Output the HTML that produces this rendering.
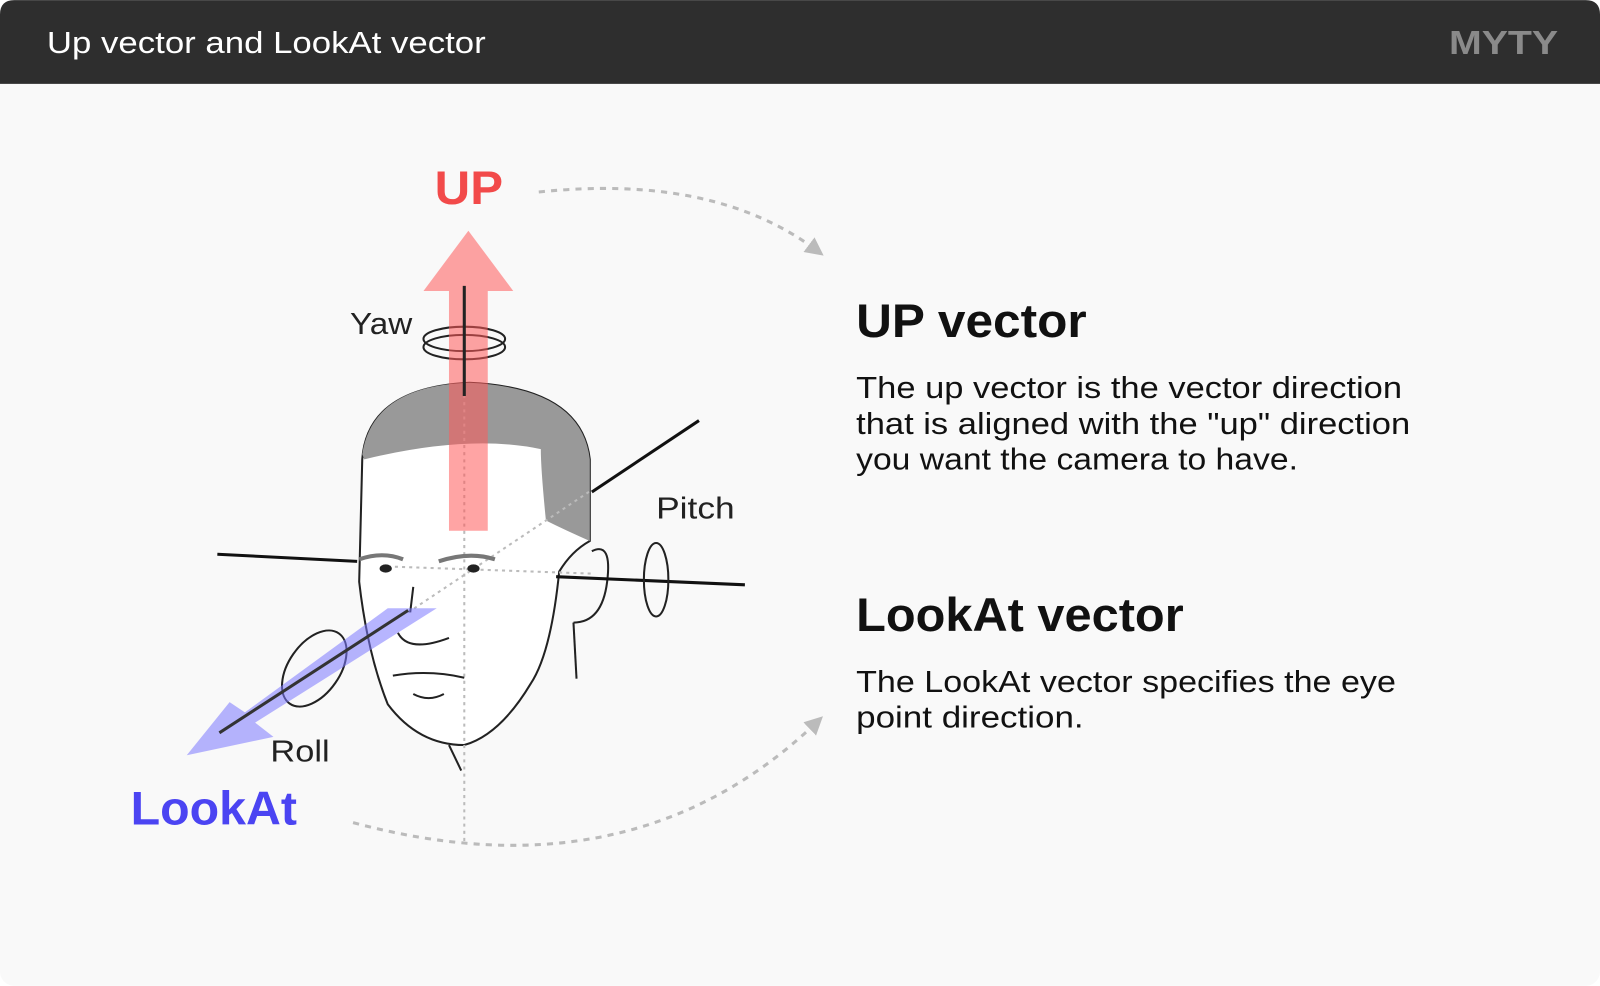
<!DOCTYPE html>
<html><head><meta charset="utf-8"><style>
html,body{margin:0;padding:0;background:#fff;}
svg{display:block}
text{font-family:"Liberation Sans",sans-serif}
</style></head><body>
<svg width="1600" height="986" viewBox="0 0 1568 966" xmlns="http://www.w3.org/2000/svg">
<defs>
<marker id="ah" viewBox="0 0 10 10" refX="5" refY="5" markerWidth="6" markerHeight="6" orient="auto"><path d="M0,0 L10,5 L0,10 z" fill="#bbb"/></marker>
</defs>
<rect x="0" y="0" width="1568" height="966" rx="14" fill="#f9f9f9"/>
<path d="M0,14 Q0,0 14,0 H1554 Q1568,0 1568,14 V82 H0 Z" fill="#2e2e2e"/>
<text x="46" y="52" font-size="30" fill="#fff" textLength="430" lengthAdjust="spacingAndGlyphs">Up vector and LookAt vector</text>
<text x="1420" y="53" font-size="33" font-weight="bold" fill="#8a8a8a" textLength="107" lengthAdjust="spacingAndGlyphs">MYTY</text>

<path d="M528,188 Q700,170 800,245" fill="none" stroke="#bbb" stroke-width="3" stroke-dasharray="6,6" marker-end="url(#ah)"/>
<path d="M346,806 Q620,880 800,708" fill="none" stroke="#bbb" stroke-width="3" stroke-dasharray="6,6" marker-end="url(#ah)"/>

<path d="M355,450 Q360,380 460,375 Q570,380 578,450 L578,530 Q560,540 548,560 Q540,640 520,670 Q490,720 455,730 Q410,730 380,690 Q360,640 352,570 Z" fill="#fff" stroke="#222" stroke-width="2"/>
<path d="M355,445 Q365,378 460,375 Q570,380 578,450 L578,530 Q555,520 535,510 Q530,460 530,440 Q460,425 357,450 Z" fill="#999"/>
<path d="M580,540 Q600,530 595,570 Q590,610 562,610" fill="none" stroke="#222" stroke-width="2"/>
<line x1="562" y1="610" x2="565" y2="665" stroke="#222" stroke-width="2"/>
<line x1="440" y1="730" x2="452" y2="755" stroke="#222" stroke-width="2"/>
<line x1="455" y1="380" x2="455" y2="825" stroke="#bbb" stroke-width="2" stroke-dasharray="3,4"/>
<line x1="380" y1="555" x2="580" y2="562" stroke="#bbb" stroke-width="2" stroke-dasharray="3,4"/>
<line x1="400" y1="600" x2="580" y2="480" stroke="#bbb" stroke-width="2" stroke-dasharray="3,4"/>
<ellipse cx="378" cy="557" rx="6" ry="4" fill="#222"/><ellipse cx="464" cy="557" rx="6" ry="4" fill="#222"/>
<path d="M352,548 Q375,540 395,548 M430,550 Q460,540 485,548" stroke="#777" stroke-width="4" fill="none"/>
<path d="M405,575 L402,600 M390,620 Q400,640 440,625" stroke="#222" stroke-width="2" fill="none"/>
<path d="M385,662 Q420,656 455,664 M405,680 Q420,688 435,680" stroke="#222" stroke-width="2" fill="none"/>
<line x1="213" y1="543" x2="350" y2="550" stroke="#111" stroke-width="3"/>
<line x1="545" y1="565" x2="730" y2="573" stroke="#111" stroke-width="3"/>
<line x1="580" y1="482" x2="685" y2="412" stroke="#111" stroke-width="3"/>
<ellipse cx="455" cy="332" rx="40" ry="12" fill="none" stroke="#222" stroke-width="2"/>
<ellipse cx="455" cy="340" rx="40" ry="12" fill="none" stroke="#222" stroke-width="2"/>
<ellipse cx="643" cy="568" rx="12" ry="36" fill="none" stroke="#222" stroke-width="2"/>
<ellipse cx="308" cy="655" rx="25" ry="42" transform="rotate(35 308 655)" fill="none" stroke="#222" stroke-width="2"/>
<path d="M440,520 V285 H415 L459,226 L503,285 H478 V520 Z" fill="#ff5a5a" opacity="0.55"/>
<line x1="455" y1="280" x2="455" y2="388" stroke="#222" stroke-width="3"/>
<path d="M380,596 L428,596 L250,708 L268,722 L183,740 L225,688 L240,698 Z" fill="#7b78ff" opacity="0.55"/>
<line x1="215" y1="718" x2="400" y2="598" stroke="#333" stroke-width="3"/>

<text x="343" y="327" font-size="30" fill="#222" textLength="61" lengthAdjust="spacingAndGlyphs">Yaw</text>
<text x="643" y="508" font-size="30" fill="#222" textLength="77" lengthAdjust="spacingAndGlyphs">Pitch</text>
<text x="265" y="746" font-size="30" fill="#222" textLength="58" lengthAdjust="spacingAndGlyphs">Roll</text>
<text x="426" y="200" font-size="46" font-weight="bold" fill="#f24a4a" textLength="67" lengthAdjust="spacingAndGlyphs">UP</text>
<text x="128" y="808" font-size="46" font-weight="bold" fill="#4b44f2" textLength="163" lengthAdjust="spacingAndGlyphs">LookAt</text>

<text x="839" y="330" font-size="46" font-weight="bold" fill="#111" textLength="226" lengthAdjust="spacingAndGlyphs">UP vector</text>
<text font-size="30" fill="#111"><tspan x="839" y="390" textLength="535" lengthAdjust="spacingAndGlyphs">The up vector is the vector direction</tspan><tspan x="839" y="425" textLength="543" lengthAdjust="spacingAndGlyphs">that is aligned with the "up" direction</tspan><tspan x="839" y="460" textLength="433" lengthAdjust="spacingAndGlyphs">you want the camera to have.</tspan></text>
<text x="839" y="618" font-size="46" font-weight="bold" fill="#111" textLength="321" lengthAdjust="spacingAndGlyphs">LookAt vector</text>
<text font-size="30" fill="#111"><tspan x="839" y="678" textLength="529" lengthAdjust="spacingAndGlyphs">The LookAt vector specifies the eye</tspan><tspan x="839" y="713" textLength="223" lengthAdjust="spacingAndGlyphs">point direction.</tspan></text>
</svg>
</body></html>
